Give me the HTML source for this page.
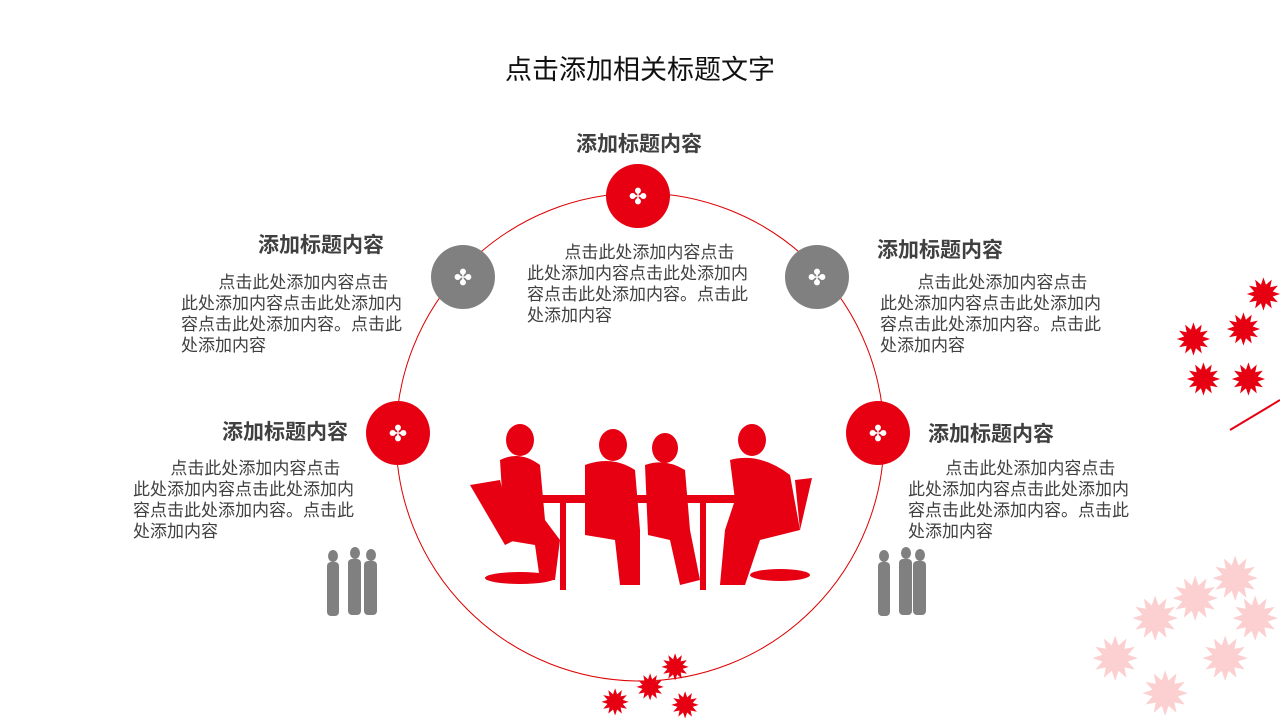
<!DOCTYPE html>
<html><head><meta charset="utf-8"><style>
body{margin:0;width:1280px;height:720px;background:#fff;position:relative;overflow:hidden;font-family:"Liberation Sans","Noto Sans CJK SC",sans-serif}
.t{position:absolute;font-size:21px;font-weight:bold;color:#404040;white-space:nowrap}
.p{position:absolute;font-size:17px;line-height:21px;color:#404040;width:223px;text-indent:2.2em}
</style></head><body>
<div style="position:absolute;left:0;width:1280px;top:48px;text-align:center;font-size:27px;color:#111">点击添加相关标题文字</div>
<svg width="1280" height="720" style="position:absolute;left:0;top:0">
<circle cx="640" cy="437" r="244" fill="none" stroke="#d00" stroke-width="1"/>
<g>
<circle cx="638" cy="196" r="32" fill="#e60012"/>
<circle cx="463" cy="277" r="32" fill="#808080"/>
<circle cx="817" cy="277" r="32" fill="#808080"/>
<circle cx="398" cy="433" r="32" fill="#e60012"/>
<circle cx="878" cy="433" r="32" fill="#e60012"/>
</g>
<g fill="#fff">
<text x="638" y="204" font-size="22" text-anchor="middle">✤</text>
<text x="463" y="285" font-size="22" text-anchor="middle">✤</text>
<text x="817" y="285" font-size="22" text-anchor="middle">✤</text>
<text x="398" y="441" font-size="22" text-anchor="middle">✤</text>
<text x="878" y="441" font-size="22" text-anchor="middle">✤</text>
</g>
<g fill="#e60012">
<rect x="520" y="495" width="230" height="8"/>
<rect x="560" y="500" width="6" height="90"/><rect x="700" y="500" width="6" height="90"/>
<ellipse cx="520" cy="440" rx="14" ry="16"/><path d="M500 460 Q520 450 540 465 L545 520 L560 540 L555 580 L540 580 L535 545 L505 540 Z"/>
<path d="M470 485 L500 480 L515 540 L505 545 Z"/><ellipse cx="520" cy="578" rx="35" ry="6"/>
<ellipse cx="613" cy="445" rx="14" ry="16"/><path d="M585 465 Q612 455 635 470 L640 530 L640 585 L620 585 L615 540 L585 535 Z"/>
<ellipse cx="665" cy="448" rx="13" ry="15"/><path d="M645 465 Q665 458 685 470 L690 530 L700 580 L680 585 L670 540 L648 535 Z"/>
<ellipse cx="752" cy="440" rx="14" ry="16"/><path d="M730 460 Q760 452 790 475 L800 530 L760 540 L745 585 L720 585 L725 530 L735 500 Z"/>
<path d="M795 480 L812 478 L800 530 Z"/><ellipse cx="780" cy="575" rx="30" ry="6"/>
</g>
<g fill="#808080">
<ellipse cx="333" cy="556" rx="5" ry="6"/><rect x="327" y="562" width="12" height="54" rx="4"/>
<ellipse cx="355" cy="553" rx="5" ry="6"/><rect x="348" y="559" width="13" height="56" rx="4"/>
<ellipse cx="371" cy="555" rx="5" ry="6"/><rect x="364" y="561" width="13" height="54" rx="4"/>
<ellipse cx="884" cy="556" rx="5" ry="6"/><rect x="878" y="562" width="12" height="54" rx="4"/>
<ellipse cx="906" cy="553" rx="5" ry="6"/><rect x="899" y="559" width="13" height="56" rx="4"/>
<ellipse cx="920" cy="555" rx="5" ry="6"/><rect x="913" y="561" width="13" height="54" rx="4"/>
</g>
<g fill="#e60012" font-size="44">
<text x="1175" y="355">✹</text><text x="1225" y="345">✹</text><text x="1245" y="310">✹</text><text x="1185" y="395">✹</text><text x="1230" y="395">✹</text>
<text x="600" y="715" font-size="36">✹</text><text x="635" y="700" font-size="36">✹</text><text x="660" y="680" font-size="36">✹</text><text x="670" y="718" font-size="36">✹</text>
</g>
<path d="M1230 430 L1280 400" stroke="#e60012" stroke-width="2"/>
<g fill="#fcd0d0" font-size="60">
<text x="1090" y="680">✹</text><text x="1130" y="640">✹</text><text x="1170" y="620">✹</text><text x="1210" y="600">✹</text><text x="1140" y="715">✹</text><text x="1200" y="680">✹</text><text x="1230" y="640">✹</text>
</g>
</svg>
<div class="t" style="left:576px;top:128px">添加标题内容</div>
<div class="p" style="left:527px;top:242px">点击此处添加内容点击此处添加内容点击此处添加内容点击此处添加内容。点击此处添加内容</div>
<div class="t" style="left:258px;top:229px">添加标题内容</div>
<div class="p" style="left:181px;top:272px">点击此处添加内容点击此处添加内容点击此处添加内容点击此处添加内容。点击此处添加内容</div>
<div class="t" style="left:877px;top:234px">添加标题内容</div>
<div class="p" style="left:880px;top:272px">点击此处添加内容点击此处添加内容点击此处添加内容点击此处添加内容。点击此处添加内容</div>
<div class="t" style="left:222px;top:416px">添加标题内容</div>
<div class="p" style="left:133px;top:458px">点击此处添加内容点击此处添加内容点击此处添加内容点击此处添加内容。点击此处添加内容</div>
<div class="t" style="left:928px;top:418px">添加标题内容</div>
<div class="p" style="left:908px;top:458px">点击此处添加内容点击此处添加内容点击此处添加内容点击此处添加内容。点击此处添加内容</div>
</body></html>
